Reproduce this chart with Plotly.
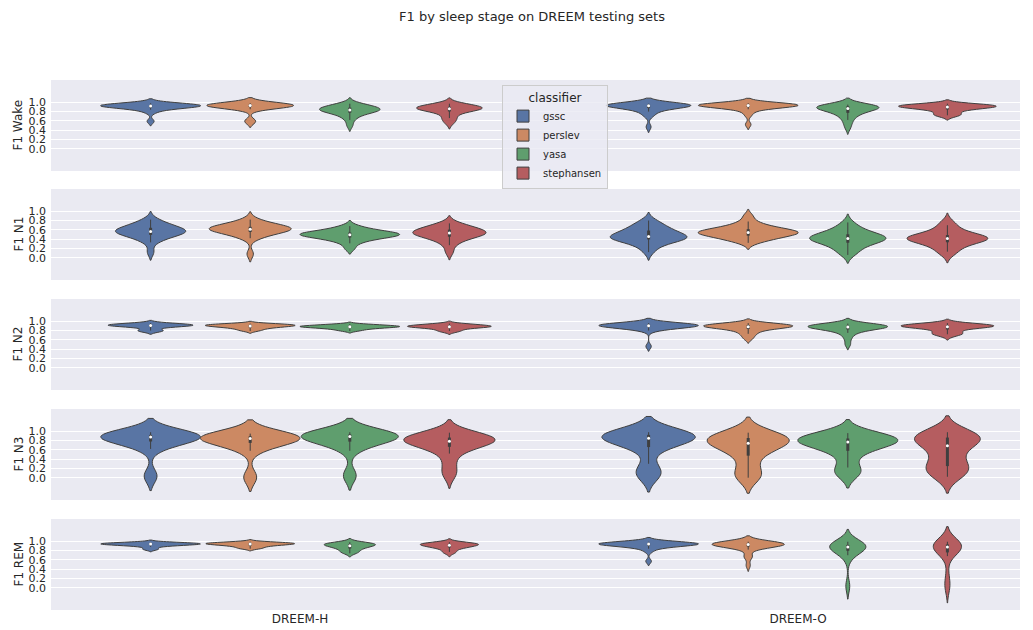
import numpy as np
import plotly.graph_objects as go

# ---- data -----------------------------------------------------------------
datasets = ["DREEM-H", "DREEM-O"]
classifiers = ["gssc", "perslev", "yasa", "stephansen"]
stages = ["Wake", "N1", "N2", "N3", "REM"]

# per-recording F1 scores, grouped by stage -> dataset -> classifier
f1_wake = {
    "DREEM-H": {
        "gssc": [0.98, 0.97, 0.96, 0.95, 0.95, 0.94, 0.94, 0.93, 0.93, 0.92,
                 0.92, 0.91, 0.91, 0.90, 0.89, 0.88, 0.86, 0.84, 0.78, 0.59],
        "perslev": [0.98, 0.97, 0.97, 0.96, 0.95, 0.95, 0.94, 0.94, 0.93, 0.93,
                    0.93, 0.92, 0.92, 0.91, 0.90, 0.89, 0.87, 0.85, 0.60, 0.58],
        "yasa": [0.97, 0.95, 0.93, 0.91, 0.90, 0.88, 0.87, 0.86, 0.85, 0.84,
                 0.83, 0.82, 0.81, 0.80, 0.78, 0.76, 0.73, 0.68, 0.62, 0.50],
        "stephansen": [0.97, 0.95, 0.94, 0.92, 0.91, 0.90, 0.89, 0.88, 0.87, 0.86,
                       0.86, 0.85, 0.84, 0.83, 0.81, 0.78, 0.72, 0.66, 0.62, 0.55],
    },
    "DREEM-O": {
        "gssc": [0.97, 0.97, 0.96, 0.96, 0.96, 0.95, 0.95, 0.95, 0.94, 0.94, 0.93, 0.93,
                 0.92, 0.92, 0.91, 0.90, 0.89, 0.88, 0.86, 0.84, 0.80, 0.75, 0.70, 0.47],
        "perslev": [0.98, 0.97, 0.97, 0.96, 0.96, 0.95, 0.95, 0.95, 0.94, 0.94, 0.94, 0.93,
                    0.93, 0.93, 0.92, 0.92, 0.91, 0.90, 0.89, 0.87, 0.85, 0.80, 0.72, 0.52],
        "yasa": [0.95, 0.94, 0.94, 0.93, 0.92, 0.92, 0.91, 0.90, 0.90, 0.89, 0.88, 0.87,
                 0.86, 0.85, 0.84, 0.82, 0.80, 0.78, 0.75, 0.72, 0.68, 0.62, 0.55, 0.45],
        "stephansen": [0.97, 0.96, 0.95, 0.95, 0.94, 0.93, 0.93, 0.92, 0.92, 0.91, 0.91, 0.90,
                       0.90, 0.89, 0.88, 0.87, 0.86, 0.85, 0.83, 0.80, 0.76, 0.74, 0.72, 0.70],
    },
}

f1_n1 = {
    "DREEM-H": {
        "gssc": [0.82, 0.76, 0.72, 0.69, 0.66, 0.64, 0.62, 0.60, 0.58, 0.57,
                 0.56, 0.55, 0.54, 0.52, 0.50, 0.47, 0.44, 0.40, 0.33, 0.12],
        "perslev": [0.82, 0.76, 0.72, 0.70, 0.68, 0.66, 0.65, 0.64, 0.63, 0.62,
                    0.61, 0.60, 0.59, 0.58, 0.56, 0.54, 0.50, 0.46, 0.42, 0.08],
        "yasa": [0.68, 0.63, 0.60, 0.57, 0.55, 0.54, 0.53, 0.52, 0.51, 0.50,
                 0.49, 0.48, 0.47, 0.46, 0.44, 0.42, 0.40, 0.36, 0.31, 0.20],
        "stephansen": [0.74, 0.70, 0.67, 0.64, 0.62, 0.60, 0.58, 0.56, 0.55, 0.54,
                       0.52, 0.51, 0.50, 0.48, 0.46, 0.43, 0.40, 0.35, 0.27, 0.12],
    },
    "DREEM-O": {
        "gssc": [0.80, 0.75, 0.70, 0.66, 0.62, 0.60, 0.58, 0.55, 0.53, 0.50, 0.48, 0.46,
                 0.45, 0.44, 0.43, 0.42, 0.41, 0.40, 0.38, 0.35, 0.32, 0.28, 0.22, 0.12],
        "perslev": [0.90, 0.78, 0.72, 0.68, 0.65, 0.63, 0.61, 0.59, 0.58, 0.57, 0.56, 0.55,
                    0.54, 0.53, 0.52, 0.51, 0.50, 0.48, 0.46, 0.44, 0.42, 0.40, 0.37, 0.32],
        "yasa": [0.76, 0.68, 0.62, 0.58, 0.55, 0.52, 0.50, 0.48, 0.46, 0.44, 0.43, 0.42,
                 0.41, 0.40, 0.39, 0.37, 0.35, 0.33, 0.30, 0.27, 0.23, 0.18, 0.12, 0.06],
        "stephansen": [0.78, 0.70, 0.64, 0.58, 0.54, 0.51, 0.48, 0.46, 0.45, 0.44, 0.43, 0.42,
                       0.41, 0.40, 0.39, 0.38, 0.36, 0.34, 0.31, 0.28, 0.24, 0.19, 0.13, 0.07],
    },
}

f1_n2 = {
    "DREEM-H": {
        "gssc": [0.96, 0.95, 0.94, 0.94, 0.93, 0.93, 0.92, 0.92, 0.91, 0.91,
                 0.91, 0.90, 0.90, 0.89, 0.88, 0.87, 0.82, 0.80, 0.79, 0.78],
        "perslev": [0.95, 0.94, 0.94, 0.93, 0.93, 0.92, 0.92, 0.91, 0.91, 0.90,
                    0.90, 0.89, 0.89, 0.88, 0.87, 0.86, 0.85, 0.83, 0.81, 0.79],
        "yasa": [0.94, 0.93, 0.92, 0.91, 0.91, 0.90, 0.90, 0.89, 0.89, 0.88,
                 0.88, 0.88, 0.87, 0.87, 0.86, 0.85, 0.84, 0.83, 0.81, 0.79],
        "stephansen": [0.95, 0.94, 0.93, 0.92, 0.91, 0.91, 0.90, 0.90, 0.89, 0.89,
                       0.88, 0.88, 0.87, 0.87, 0.86, 0.85, 0.83, 0.81, 0.79, 0.77],
    },
    "DREEM-O": {
        "gssc": [0.96, 0.95, 0.95, 0.94, 0.94, 0.93, 0.93, 0.92, 0.92, 0.92, 0.91, 0.91,
                 0.90, 0.90, 0.90, 0.89, 0.89, 0.88, 0.87, 0.86, 0.85, 0.83, 0.80, 0.46],
        "perslev": [0.96, 0.95, 0.94, 0.93, 0.93, 0.92, 0.92, 0.91, 0.90, 0.90, 0.89, 0.89,
                    0.88, 0.88, 0.87, 0.86, 0.85, 0.84, 0.82, 0.80, 0.76, 0.73, 0.68, 0.62],
        "yasa": [0.95, 0.94, 0.93, 0.92, 0.92, 0.91, 0.90, 0.90, 0.89, 0.89, 0.88, 0.88,
                 0.87, 0.87, 0.86, 0.85, 0.84, 0.83, 0.81, 0.78, 0.75, 0.70, 0.62, 0.50],
        "stephansen": [0.96, 0.95, 0.94, 0.93, 0.92, 0.92, 0.91, 0.91, 0.90, 0.90, 0.89, 0.89,
                       0.88, 0.88, 0.87, 0.86, 0.85, 0.83, 0.80, 0.76, 0.74, 0.73, 0.72, 0.68],
    },
}

f1_n3 = {
    "DREEM-H": {
        "gssc": [0.98, 0.97, 0.95, 0.94, 0.93, 0.92, 0.91, 0.90, 0.89, 0.88,
                 0.87, 0.86, 0.84, 0.82, 0.79, 0.75, 0.70, 0.62, 0.05, 0.02],
        "perslev": [0.95, 0.94, 0.92, 0.91, 0.90, 0.89, 0.88, 0.87, 0.86, 0.85,
                    0.84, 0.83, 0.81, 0.79, 0.76, 0.72, 0.66, 0.58, 0.02, 0.00],
        "yasa": [0.98, 0.97, 0.96, 0.95, 0.94, 0.93, 0.92, 0.91, 0.90, 0.89,
                 0.88, 0.86, 0.84, 0.82, 0.79, 0.74, 0.68, 0.58, 0.06, 0.03],
        "stephansen": [0.97, 0.95, 0.92, 0.90, 0.88, 0.86, 0.84, 0.82, 0.80, 0.79,
                       0.78, 0.76, 0.74, 0.72, 0.68, 0.62, 0.52, 0.35, 0.15, 0.05],
    },
    "DREEM-O": {
        "gssc": [0.98, 0.97, 0.96, 0.95, 0.94, 0.93, 0.92, 0.91, 0.90, 0.89, 0.88, 0.86,
                 0.84, 0.82, 0.80, 0.77, 0.73, 0.68, 0.60, 0.30, 0.15, 0.10, 0.06, 0.03],
        "perslev": [0.97, 0.95, 0.93, 0.91, 0.89, 0.87, 0.85, 0.83, 0.81, 0.79, 0.77, 0.75,
                    0.73, 0.70, 0.67, 0.63, 0.58, 0.50, 0.40, 0.25, 0.10, 0.05, 0.02, 0.00],
        "yasa": [0.96, 0.94, 0.92, 0.90, 0.88, 0.86, 0.84, 0.82, 0.81, 0.80, 0.79, 0.78,
                 0.76, 0.74, 0.72, 0.69, 0.65, 0.60, 0.52, 0.40, 0.22, 0.14, 0.10, 0.07],
        "stephansen": [0.98, 0.96, 0.94, 0.92, 0.90, 0.88, 0.86, 0.84, 0.82, 0.80, 0.76, 0.72,
                       0.66, 0.58, 0.50, 0.40, 0.32, 0.26, 0.22, 0.18, 0.14, 0.10, 0.06, 0.02],
    },
}

f1_rem = {
    "DREEM-H": {
        "gssc": [0.98, 0.97, 0.97, 0.96, 0.96, 0.95, 0.95, 0.95, 0.94, 0.94,
                 0.94, 0.93, 0.93, 0.92, 0.92, 0.91, 0.90, 0.88, 0.84, 0.82],
        "perslev": [0.99, 0.98, 0.97, 0.97, 0.96, 0.96, 0.95, 0.95, 0.95, 0.94,
                    0.94, 0.93, 0.93, 0.92, 0.91, 0.90, 0.89, 0.87, 0.85, 0.84],
        "yasa": [0.98, 0.97, 0.96, 0.95, 0.95, 0.94, 0.93, 0.93, 0.92, 0.91,
                 0.90, 0.89, 0.88, 0.87, 0.85, 0.83, 0.81, 0.78, 0.76, 0.74],
        "stephansen": [0.98, 0.97, 0.96, 0.95, 0.95, 0.94, 0.94, 0.93, 0.93, 0.92,
                       0.91, 0.90, 0.89, 0.88, 0.87, 0.86, 0.84, 0.80, 0.77, 0.74],
    },
    "DREEM-O": {
        "gssc": [0.99, 0.98, 0.97, 0.97, 0.96, 0.96, 0.96, 0.95, 0.95, 0.95, 0.94, 0.94,
                 0.94, 0.93, 0.93, 0.92, 0.92, 0.91, 0.90, 0.89, 0.87, 0.84, 0.78, 0.57],
        "perslev": [0.99, 0.98, 0.97, 0.97, 0.96, 0.96, 0.95, 0.95, 0.95, 0.94, 0.94, 0.93,
                    0.93, 0.92, 0.92, 0.91, 0.90, 0.89, 0.88, 0.86, 0.82, 0.68, 0.66, 0.48],
        "yasa": [0.99, 0.97, 0.96, 0.95, 0.94, 0.93, 0.92, 0.91, 0.90, 0.90, 0.89, 0.88,
                 0.87, 0.86, 0.85, 0.84, 0.82, 0.80, 0.78, 0.75, 0.70, 0.60, 0.05, 0.02],
        "stephansen": [0.99, 0.98, 0.97, 0.96, 0.95, 0.94, 0.93, 0.92, 0.91, 0.90, 0.89, 0.88,
                       0.87, 0.86, 0.84, 0.82, 0.80, 0.77, 0.73, 0.68, 0.30, 0.10, 0.03, 0.00],
    },
}

stage_scores = [f1_wake, f1_n1, f1_n2, f1_n3, f1_rem]
y_tick_values = [0.0, 0.2, 0.4, 0.6, 0.8, 1.0]
y_tick_labels = ["0.0", "0.2", "0.4", "0.6", "0.8", "1.0"]

# ---- style ----------------------------------------------------------------
colors = {"gssc": "#5975A4", "perslev": "#CC8963", "yasa": "#5F9E6E", "stephansen": "#B55D60"}
GRAY = "#3f3f3f"
AX_BG = "#EAEAF2"
TXT = "#262626"
FONT = "DejaVu Sans"

W, H = 1033, 630
PLOT_L, PLOT_R = 51, 1020
row_tops = [80, 189, 299, 409, 519]
row_height = 91
hue_width = 0.8 / len(classifiers)


def scott_bandwidth(v):
    v = np.asarray(v, float)
    return v.std(ddof=1) * len(v) ** (-0.2)


def kde_peak(v, bw):
    v = np.asarray(v, float)
    grid = np.linspace(v.min() - 2 * bw, v.max() + 2 * bw, 600)
    dens = np.exp(-0.5 * ((grid[:, None] - v[None, :]) / bw) ** 2).sum(axis=1)
    return dens.max() / (len(v) * bw * np.sqrt(2 * np.pi))


fig = go.Figure()

for r, scores in enumerate(stage_scores, start=1):
    xa = "x" if r == 1 else f"x{r}"
    ya = "y" if r == 1 else f"y{r}"
    for ci, ds in enumerate(datasets):
        bws = {c: scott_bandwidth(scores[ds][c]) for c in classifiers}
        peaks = {c: kde_peak(scores[ds][c], bws[c]) for c in classifiers}
        top_peak = max(peaks.values())
        for hi, cls in enumerate(classifiers):
            vals = np.asarray(scores[ds][cls], float)
            pos = ci + (hi - (len(classifiers) - 1) / 2) * hue_width
            width = hue_width * peaks[cls] / top_peak
            fig.add_trace(go.Violin(
                y=vals, x0=pos, xaxis=xa, yaxis=ya,
                width=width, bandwidth=bws[cls], spanmode="soft", scalemode="width",
                points=False, box_visible=False, meanline_visible=False,
                fillcolor=colors[cls], line=dict(color=GRAY, width=1), opacity=1,
                name=cls, legendgroup=cls, showlegend=(r == 1 and ci == 0),
                hoverinfo="skip",
            ))
            # inner box: whiskers, interquartile bar and median dot
            q25, q50, q75 = np.percentile(vals, [25, 50, 75])
            lim = 1.5 * (q75 - q25)
            lo = vals[vals >= q25 - lim].min()
            hi_w = vals[vals <= q75 + lim].max()
            fig.add_trace(go.Scatter(x=[pos, pos], y=[lo, hi_w], xaxis=xa, yaxis=ya,
                                     mode="lines", line=dict(color=GRAY, width=1),
                                     showlegend=False, hoverinfo="skip"))
            fig.add_trace(go.Scatter(x=[pos, pos], y=[q25, q75], xaxis=xa, yaxis=ya,
                                     mode="lines", line=dict(color=GRAY, width=3),
                                     showlegend=False, hoverinfo="skip"))
            fig.add_trace(go.Scatter(x=[pos], y=[q50], xaxis=xa, yaxis=ya, mode="markers",
                                     marker=dict(color="white", size=3, line=dict(width=0)),
                                     showlegend=False, hoverinfo="skip"))

layout = dict(
    width=W, height=H,
    margin=dict(l=PLOT_L, r=W - PLOT_R, t=0, b=0),
    paper_bgcolor="white", plot_bgcolor=AX_BG,
    font=dict(family=FONT, color=TXT, size=11),
    violinmode="overlay",
    title=dict(text="F1 by sleep stage on DREEM testing sets", x=532 / W, xref="container",
               xanchor="center", y=1 - 16 / H, yref="container", yanchor="middle",
               font=dict(family=FONT, size=13, color=TXT)),
    legend=dict(
        x=(502 - PLOT_L) / (PLOT_R - PLOT_L), xanchor="left",
        y=1 - 85 / H, yanchor="top",
        bgcolor="rgba(234,234,242,0.8)", bordercolor="#cccccc", borderwidth=1,
        font=dict(family=FONT, size=10, color=TXT),
        title=dict(text="classifier", side="top center", font=dict(family=FONT, size=12, color=TXT)),
        tracegroupgap=0,
    ),
    showlegend=True,
)

annotations = []
for r in range(1, 6):
    top = row_tops[r - 1]
    dom = [1 - (top + row_height) / H, 1 - top / H]
    xk = "xaxis" if r == 1 else f"xaxis{r}"
    yk = "yaxis" if r == 1 else f"yaxis{r}"
    layout[xk] = dict(
        domain=[0, 1], anchor="y" if r == 1 else f"y{r}",
        range=[-0.5, -0.5 + (PLOT_R - PLOT_L) / 498], showgrid=False, zeroline=False,
        tickvals=[0, 1], ticktext=datasets, showticklabels=(r == 5),
        tickfont=dict(family=FONT, size=12, color=TXT), ticks="", automargin=False,
    )
    if r > 1:
        layout[xk]["matches"] = "x"
    layout[yk] = dict(
        domain=dom, anchor="x" if r == 1 else f"x{r}",
        range=[-0.48, 1.48], tickvals=y_tick_values, ticktext=y_tick_labels,
        showgrid=True, gridcolor="white", gridwidth=1, zeroline=False,
        tickfont=dict(family=FONT, size=11, color=TXT), ticks="", automargin=False,
        ticklabelstandoff=4,
    )
    annotations.append(dict(
        text=f"F1 {stages[r - 1]}", textangle=-90, showarrow=False,
        xref="paper", x=(18 - PLOT_L) / (PLOT_R - PLOT_L), xanchor="center",
        yref="paper", y=1 - (top + row_height / 2) / H, yanchor="middle",
        font=dict(family=FONT, size=12, color=TXT),
    ))
layout["annotations"] = annotations

fig.update_layout(**layout)
fig.write_html("out.html")
